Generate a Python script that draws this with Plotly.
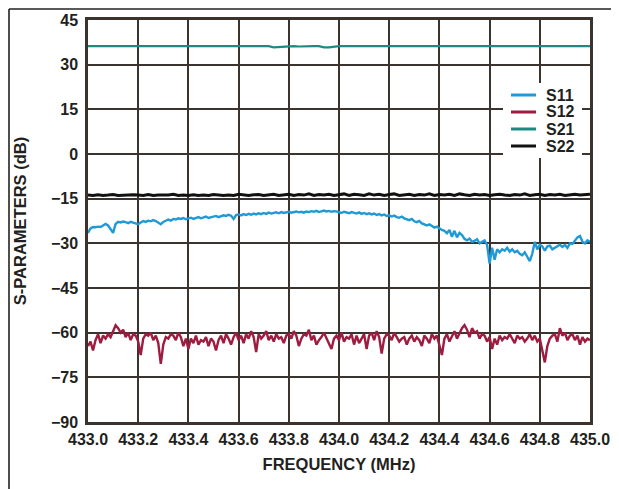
import numpy as np
import plotly.graph_objects as go

# Frequency grids (MHz)
freq_fine = np.round(np.arange(433.00, 435.0001, 0.01), 2)    # 201 pts
freq_coarse = np.round(np.arange(433.00, 435.0001, 0.02), 2)  # 101 pts

s11 = [
    -26.5, -25.0, -24.5, -24.6, -24.4, -24.5, -24.0, -23.5, -24.0, -25.5,
    -26.5, -23.5, -22.8, -23.0, -22.7, -22.9, -23.2, -22.8, -23.0, -23.4,
    -23.6, -23.0, -22.5, -22.8, -22.4, -22.6, -22.2, -22.5, -23.0, -23.6,
    -22.8, -22.3, -22.0, -22.4, -21.8, -22.0, -21.6, -21.8, -21.5, -21.9,
    -21.7, -21.4, -21.8, -21.5, -21.2, -21.6, -21.3, -21.0, -21.5, -21.2,
    -21.0, -20.8, -21.2, -20.9, -20.6, -20.8, -20.4, -20.7, -21.8, -20.5,
    -20.3, -20.6, -20.2, -20.5, -20.1, -20.4, -20.0, -20.3, -19.9, -20.2,
    -19.8, -20.1, -19.7, -20.0, -19.8, -19.6, -19.9, -19.5, -19.8, -19.6,
    -19.4, -19.7, -19.5, -19.3, -19.6, -19.4, -19.7, -19.3, -19.5, -19.2,
    -19.4, -19.1, -19.5, -19.2, -19.0, -19.3, -19.1, -19.4, -19.2, -19.3,
    -19.5, -19.8, -19.4, -19.6, -19.9, -19.5, -19.7, -20.0, -19.6, -20.1,
    -19.8, -20.2, -19.9, -20.3, -20.0, -20.5, -20.2, -20.6, -20.3, -20.8,
    -20.6, -21.0, -20.7, -21.2, -21.4, -21.0, -21.6, -21.9, -22.2, -21.8,
    -22.6, -22.9, -22.5, -23.3, -23.6, -24.0, -23.6, -24.3, -24.7, -24.4,
    -25.0, -25.5, -25.8, -26.6, -25.5, -27.8, -25.8, -28.0, -26.5, -27.2,
    -28.5, -29.0, -28.4, -29.5, -29.2, -28.6, -30.0, -29.5, -29.0, -30.5,
    -36.8, -31.5, -35.5, -32.0, -33.0, -32.0, -32.5, -31.5, -32.8, -32.0,
    -33.0, -32.5, -33.5, -34.0, -33.0, -34.5, -36.0, -33.5, -29.5, -32.0,
    -30.5, -31.0, -32.5, -31.0, -30.8, -32.0, -31.5, -31.0, -30.5, -31.2,
    -30.5, -31.5, -30.0, -30.2, -29.0, -28.0, -27.5, -29.5, -30.0, -29.0,
    -29.5,
]

s12 = [
    -64.5, -63.0, -66.0, -62.5, -60.5, -63.5, -61.0, -62.0, -60.5, -61.5,
    -59.5, -57.5, -58.5, -60.0, -59.0, -61.5, -60.0, -62.5, -60.5, -61.0,
    -63.0, -67.5, -62.0, -60.5, -61.0, -60.0, -62.5, -61.0, -63.5, -70.5,
    -64.0, -61.5, -62.0, -60.5, -61.0, -62.5, -60.0, -61.5, -64.5, -62.0,
    -65.5, -62.0, -63.5, -61.0, -64.0, -62.5, -63.0, -61.5, -64.5, -62.0,
    -63.0, -66.0, -62.5, -61.0, -63.5, -60.5, -62.0, -64.0, -61.5, -60.0,
    -62.5, -61.0, -63.5, -60.5, -62.0, -59.5, -61.5, -66.5, -60.5, -62.0,
    -61.0, -59.5, -62.5, -61.0, -63.0, -60.5, -62.0, -61.5, -63.5, -61.0,
    -60.5, -62.0, -59.5, -61.0, -64.5, -62.0, -60.5, -61.0, -59.0, -62.5,
    -61.0, -64.0, -62.5, -61.5, -60.0, -62.0, -63.5, -65.5, -62.0, -61.0,
    -62.5, -60.0, -63.0, -61.5, -62.0, -60.5, -64.0, -61.0, -63.5, -62.0,
    -60.5, -65.5, -61.0, -60.0, -62.5, -59.5, -61.5, -67.0, -62.0, -60.5,
    -61.0, -62.5, -60.0, -61.5, -63.0, -62.0, -61.5, -64.0, -62.0, -61.0,
    -63.0, -61.5, -62.5, -64.5, -61.0, -62.0, -63.5, -60.5, -62.0, -61.0,
    -64.0, -67.5, -62.0, -60.5, -63.0, -61.0, -59.5, -62.0, -60.0, -58.5,
    -57.5, -59.0, -61.5, -58.5, -60.0, -59.5, -62.0, -60.5, -61.0, -63.0,
    -61.5, -65.5, -62.0, -64.0, -61.0, -62.5, -61.5, -62.0, -60.5, -62.0,
    -63.5, -61.0, -62.0, -61.5, -63.0, -62.0, -60.5, -62.5, -61.0, -63.0,
    -62.0, -66.0, -70.0, -64.5, -62.0, -61.0, -60.5, -63.0, -58.5, -61.0,
    -60.0, -62.5, -61.0, -60.5, -62.5, -61.0, -64.0, -61.5, -63.0, -62.0,
    -62.5,
]

s21 = [
    36.2, 36.2, 36.1, 36.2, 36.2, 36.2, 36.1, 36.2, 36.2, 36.2,
    36.2, 36.1, 36.2, 36.2, 36.2, 36.2, 36.2, 36.1, 36.2, 36.2,
    36.2, 36.2, 36.2, 36.1, 36.2, 36.2, 36.2, 36.2, 36.1, 36.2,
    36.2, 36.2, 36.1, 36.2, 36.2, 36.2, 36.2, 35.8, 35.9, 36.2,
    36.2, 36.2, 36.1, 36.2, 36.2, 36.2, 36.2, 35.8, 35.8, 36.1,
    36.2, 36.2, 36.2, 36.1, 36.2, 36.2, 36.2, 36.2, 36.1, 36.2,
    36.2, 36.2, 36.2, 36.1, 36.2, 36.2, 36.2, 36.2, 36.2, 36.1,
    36.2, 36.2, 36.2, 36.2, 36.1, 36.2, 36.2, 36.2, 36.2, 36.2,
    36.1, 36.2, 36.2, 36.2, 36.2, 36.1, 36.2, 36.2, 36.2, 36.2,
    36.2, 36.1, 36.2, 36.2, 36.2, 36.2, 36.1, 36.2, 36.2, 36.2,
    36.2,
]

s22 = [
    -13.8, -13.9, -13.7, -13.9, -13.8, -13.6, -13.9, -13.8, -13.9, -13.7,
    -13.8, -13.9, -13.6, -13.9, -13.8, -13.9, -13.8, -13.5, -13.9, -13.8,
    -13.9, -13.7, -13.9, -13.8, -13.9, -13.6, -13.8, -13.9, -13.8, -13.9,
    -13.5, -13.8, -13.9, -13.7, -13.6, -13.9, -13.8, -13.5, -13.9, -13.7,
    -13.5, -13.9, -13.6, -13.8, -13.4, -13.9, -13.6, -13.8, -13.5, -13.9,
    -13.6, -13.4, -13.9, -13.5, -13.7, -13.9, -13.4, -13.8, -13.5, -13.9,
    -13.6, -13.4, -13.9, -13.7, -13.5, -13.9, -13.6, -13.8, -13.4, -13.9,
    -13.6, -13.8, -13.5, -13.9, -13.4, -13.7, -13.9, -13.5, -13.8, -13.6,
    -13.9, -13.7, -13.5, -13.8, -13.9, -13.6, -13.8, -13.4, -13.9, -13.7,
    -13.5, -13.9, -13.6, -13.8, -13.5, -13.9, -13.7, -13.5, -13.8, -13.6,
    -13.5,
]

series_names = ["S11", "S12", "S21", "S22"]
series_colors = ["#1f9ad6", "#9e1c40", "#1c8a80", "#111111"]
series_widths = [2.4, 2.4, 2.2, 3]

x_ticks = [433.0, 433.2, 433.4, 433.6, 433.8, 434.0, 434.2, 434.4, 434.6, 434.8, 435.0]
y_ticks = [-90, -75, -60, -45, -30, -15, 0, 15, 30, 45]

INK = "#231f20"
GRID = "#3a332e"
FONT = "Liberation Sans, Arial, Helvetica, sans-serif"

# The page body adds an 8px offset; the figure is sized to the remaining window.
OFF = 8
FIG_W, FIG_H = 619 - OFF, 489 - OFF
# plot-area geometry in page pixels
L, R, T, B = 88, 590, 20, 422
W, H = R - L, B - T


def px(xp):
    return (xp - L) / W


def py(yp):
    return (B - yp) / H


fig = go.Figure()
for name, yv, xv, col, lw in zip(series_names, [s11, s12, s21, s22],
                                 [freq_fine, freq_fine, freq_coarse, freq_coarse],
                                 series_colors, series_widths):
    fig.add_trace(go.Scatter(x=xv, y=yv, mode="lines", name=name,
                             line=dict(color=col, width=lw), showlegend=False))

FRAME = dict(color="#222222", width=1.6)
shapes = [
    dict(type="line", xref="paper", yref="paper", x0=px(9), x1=px(9),
         y0=py(489), y1=py(9), line=FRAME, layer="above"),
    dict(type="line", xref="paper", yref="paper", x0=px(613), x1=px(613),
         y0=py(489), y1=py(9), line=FRAME, layer="above"),
    dict(type="line", xref="paper", yref="paper", x0=px(9), x1=px(613),
         y0=py(9), y1=py(9), line=FRAME, layer="above"),
]
# legend box (white background over the grid)
shapes.append(dict(type="rect", xref="paper", yref="paper",
                   x0=px(503), x1=px(582), y0=py(158), y1=py(83),
                   fillcolor="white", line=dict(width=0), layer="above"))
annotations = []
leg_y = [95, 112, 129, 146]
for name, col, yy in zip(series_names, series_colors, leg_y):
    shapes.append(dict(type="line", xref="paper", yref="paper",
                       x0=px(511), x1=px(536), y0=py(yy), y1=py(yy),
                       line=dict(color=col, width=3), layer="above"))
    annotations.append(dict(xref="paper", yref="paper", x=px(544), y=py(yy),
                            xanchor="left", yanchor="middle", showarrow=False,
                            text=name,
                            font=dict(family=FONT, size=16, color=INK, weight="bold")))

fig.update_layout(
    width=FIG_W, height=FIG_H,
    margin=dict(l=L - OFF, r=FIG_W - (R - OFF), t=T - OFF, b=FIG_H - (B - OFF)),
    paper_bgcolor="white", plot_bgcolor="white",
    font=dict(family=FONT, size=16, color=INK, weight="bold"),
    showlegend=False,
    xaxis=dict(
        range=[433.0, 435.0], tickvals=x_ticks, ticktext=[f"{v:.1f}" for v in x_ticks],
        showgrid=True, gridcolor=GRID, gridwidth=2,
        showline=True, linecolor=GRID, linewidth=2.5, mirror=True,
        ticks="", zeroline=False, automargin=False, ticklabelstandoff=1,
        tickfont=dict(family=FONT, size=16, color=INK, weight="bold"),
        title=dict(text="FREQUENCY (MHz)", standoff=12,
                   font=dict(family=FONT, size=16.5, color=INK, weight="bold")),
    ),
    yaxis=dict(
        range=[-90, 45], tickvals=y_ticks,
        showgrid=True, gridcolor=GRID, gridwidth=2,
        showline=True, linecolor=GRID, linewidth=2.5, mirror=True,
        ticks="", zeroline=False, automargin=False, ticklabelstandoff=4,
        tickfont=dict(family=FONT, size=16, color=INK, weight="bold"),
        title=dict(text="S-PARAMETERS (dB)", standoff=21,
                   font=dict(family=FONT, size=16.5, color=INK, weight="bold")),
    ),
    shapes=shapes,
    annotations=annotations,
)

fig.write_html("out.html")
